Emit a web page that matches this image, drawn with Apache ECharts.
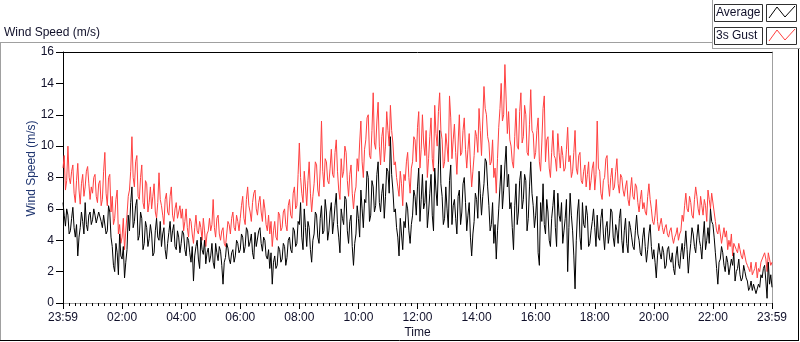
<!DOCTYPE html>
<html>
<head>
<meta charset="utf-8">
<script src="https://cdn.jsdelivr.net/npm/echarts@6/dist/echarts.min.js"></script>
<style>
  html, body { margin: 0; padding: 0; background: #fff; }
  #chart { width: 800px; height: 342px; }
</style>
</head>
<body>
<div id="chart"></div>
<script>
// time axis: minutes since the first sample (23:59), one sample every 2.5 minutes
var xLabels = ['23:59', '02:00', '04:00', '06:00', '08:00', '10:00', '12:00',
               '14:00', '16:00', '18:00', '20:00', '22:00', '23:59'];
var yTicks = [0, 2, 4, 6, 8, 10, 12, 14, 16];
var stepMin = 2.5;

// Average wind speed (m/s), one row per hour
var average = [
    6.4, 5.6, 4.9, 6.0, 5.6, 4.4, 4.6, 5.4, 6.1, 4.8, 4.2, 5.0, 3.0, 4.2, 4.8, 5.8, 5.2, 4.4, 6.4, 5.0, 4.6, 5.6, 5.8, 5.0,
    5.3, 6.0, 5.6, 5.1, 5.0, 5.8, 5.9, 5.2, 4.8, 5.6, 5.5, 4.4, 4.6, 6.2, 5.8, 4.2, 3.6, 2.4, 2.0, 3.8, 3.2, 1.8, 4.4, 3.0,
    2.8, 3.6, 1.6, 2.6, 3.4, 5.6, 4.6, 6.4, 7.4, 4.8, 5.2, 6.2, 6.6, 4.0, 4.3, 5.8, 5.4, 3.4, 3.8, 5.2, 4.8, 3.6, 4.1, 5.0,
    4.4, 3.0, 3.2, 4.6, 5.4, 4.2, 4.0, 5.2, 3.6, 4.4, 4.8, 3.4, 2.8, 3.8, 4.5, 5.2, 3.9, 4.6, 5.0, 3.6, 3.4, 4.6, 4.2, 3.2,
    3.8, 4.6, 4.4, 3.4, 3.0, 4.2, 4.0, 3.2, 2.6, 3.6, 1.4, 3.0, 3.6, 4.0, 2.8, 2.2, 4.2, 3.4, 3.1, 4.0, 2.5, 3.2, 3.5, 2.6,
    3.0, 3.8, 2.6, 2.2, 3.8, 3.2, 2.7, 3.6, 3.3, 2.4, 1.2, 2.6, 2.9, 3.8, 3.5, 2.8, 2.5, 3.2, 3.4, 2.6, 3.0, 4.0, 3.8, 3.2,
    3.4, 4.4, 4.2, 3.2, 3.6, 4.8, 4.6, 3.6, 3.9, 4.4, 3.2, 2.8, 4.5, 3.6, 3.7, 4.6, 4.8, 3.8, 3.3, 4.2, 4.0, 3.0, 2.8, 3.4,
    2.2, 3.2, 1.2, 2.6, 3.0, 2.2, 2.4, 3.6, 3.4, 2.6, 2.8, 3.8, 3.6, 2.4, 2.9, 4.0, 4.2, 3.4, 3.2, 4.8, 4.6, 3.6, 3.8, 5.2,
    5.0, 6.4, 4.2, 3.4, 6.0, 4.8, 3.6, 5.2, 4.8, 3.4, 2.6, 4.0, 4.4, 5.8, 5.6, 4.2, 3.8, 5.4, 6.2, 4.4, 4.6, 6.6, 5.8, 4.0,
    4.6, 5.8, 6.4, 4.4, 5.2, 6.2, 7.0, 5.0, 4.2, 3.2, 6.0, 5.4, 5.0, 6.8, 6.6, 4.6, 3.8, 5.2, 5.6, 3.6, 2.4, 3.8, 4.4, 6.2,
    5.4, 4.2, 7.2, 6.0, 4.8, 6.6, 6.4, 8.4, 8.0, 5.2, 5.6, 7.8, 7.4, 5.8, 6.2, 8.2, 9.0, 6.4, 5.8, 7.0, 7.6, 5.4, 6.8, 8.6,
    8.4, 7.0, 10.6, 8.2, 7.2, 5.8, 6.0, 4.8, 4.2, 3.0, 5.4, 4.4, 3.4, 5.2, 4.8, 6.4, 6.0, 4.6, 3.8, 5.0, 5.6, 7.2, 6.8, 5.6,
    7.4, 8.6, 5.2, 6.6, 8.2, 6.0, 6.4, 7.8, 4.8, 5.8, 7.0, 8.2, 5.6, 4.6, 8.6, 7.2, 6.2, 8.8, 11.0, 7.6, 6.8, 5.0, 5.4, 7.4,
    6.0, 4.8, 7.8, 8.8, 5.0, 6.2, 6.6, 5.4, 4.4, 6.8, 7.2, 5.0, 5.8, 7.6, 8.0, 6.4, 4.6, 5.6, 6.4, 4.2, 3.0, 4.4, 5.2, 7.0,
    6.6, 5.4, 8.4, 7.0, 5.6, 6.8, 7.6, 9.2, 9.0, 7.4, 6.2, 4.6, 5.0, 6.4, 3.8, 5.0, 2.8, 4.6, 6.0, 7.4, 8.8, 6.0, 7.2, 8.8,
    10.0, 7.4, 8.2, 6.0, 6.4, 4.8, 3.4, 6.2, 7.6, 5.0, 5.8, 7.8, 8.4, 6.0, 6.6, 8.2, 7.8, 4.6, 5.4, 7.4, 9.0, 7.0, 6.2, 4.8,
    5.6, 6.8, 3.2, 2.4, 6.4, 5.2, 7.6, 5.0, 4.4, 6.6, 5.8, 4.0, 3.6, 5.4, 6.2, 7.2, 4.8, 3.6, 7.0, 5.6, 5.2, 6.4, 3.8, 4.6,
    5.4, 6.6, 2.0, 4.8, 7.0, 5.6, 4.6, 3.0, 0.9, 4.0, 5.8, 6.6, 4.2, 3.4, 6.4, 5.0, 4.8, 6.2, 5.6, 3.6, 3.8, 4.6, 5.2, 6.0,
    4.8, 3.6, 5.6, 4.2, 4.0, 5.4, 6.0, 4.4, 3.4, 4.8, 5.2, 3.8, 4.4, 6.0, 5.8, 4.2, 3.6, 5.0, 4.6, 3.8, 5.4, 6.0, 4.0, 3.2,
    4.6, 5.4, 3.8, 3.2, 5.2, 4.8, 4.2, 3.6, 3.4, 4.6, 5.6, 4.4, 4.0, 3.2, 3.0, 4.2, 4.8, 3.6, 2.6, 3.4, 4.4, 5.0, 3.6, 2.8,
    3.4, 2.6, 1.6, 3.0, 3.8, 3.2, 2.8, 3.6, 3.2, 2.2, 2.4, 3.4, 3.6, 2.8, 2.6, 3.2, 2.2, 1.8, 3.0, 3.6, 2.5, 2.2, 3.2, 3.8,
    2.8, 3.6, 4.6, 3.4, 1.9, 3.0, 3.8, 4.8, 4.4, 3.6, 3.2, 4.2, 5.0, 4.0, 3.6, 2.8, 4.2, 5.2, 3.4, 4.0, 4.8, 3.8, 6.0, 5.2,
    5.0, 4.2, 3.2, 2.2, 1.2, 2.6, 2.8, 3.6, 3.2, 2.4, 2.0, 3.0, 2.6, 1.8, 1.8, 2.8, 2.4, 3.2, 1.4, 2.0, 2.2, 2.8, 1.8, 1.4,
    1.6, 2.4, 2.0, 1.6, 1.4, 0.8, 1.0, 1.4, 0.8, 1.2, 1.2, 0.6, 0.5, 1.2, 1.0, 1.8, 1.6, 2.2, 2.4, 1.4, 0.3, 2.6, 1.2, 1.8,
    1.0
];

// 3s gust (m/s), one row per hour
var gust = [
    8.6, 9.4, 7.2, 7.8, 10.0, 8.0, 7.6, 8.4, 8.8, 7.0, 6.4, 7.8, 8.9, 7.2, 6.3, 7.6, 8.2, 6.8, 7.4, 8.4, 8.7, 7.6, 6.6, 7.4,
    7.0, 8.0, 8.2, 6.8, 6.4, 7.6, 7.8, 6.2, 6.6, 8.4, 9.6, 7.0, 6.2, 8.0, 8.2, 5.8, 6.8, 5.0, 5.4, 6.6, 7.2, 4.4, 5.0, 3.8,
    4.2, 5.4, 3.4, 4.6, 5.6, 6.8, 7.2, 8.4, 10.6, 8.0, 7.4, 9.0, 9.4, 6.8, 6.6, 8.0, 8.8, 6.4, 6.0, 7.8, 7.6, 5.8, 6.4, 7.4,
    6.0, 6.8, 7.6, 5.8, 5.4, 6.4, 8.3, 6.6, 6.2, 5.6, 5.0, 6.6, 7.0, 5.8, 5.6, 6.8, 7.4, 5.6, 5.2, 6.0, 6.4, 5.4, 5.8, 6.2,
    5.4, 6.0, 4.6, 5.2, 6.0, 4.8, 4.2, 5.4, 5.2, 4.4, 3.8, 4.8, 5.6, 4.6, 4.4, 5.2, 4.8, 4.0, 5.4, 4.6, 3.6, 4.4, 4.6, 5.4,
    4.6, 5.0, 6.6, 4.8, 4.2, 5.4, 5.6, 4.4, 4.0, 4.6, 4.8, 3.8, 3.6, 4.4, 5.2, 5.0, 4.4, 5.4, 5.8, 4.8, 4.6, 5.6, 5.2, 4.6,
    5.4, 6.2, 6.8, 5.4, 5.0, 6.6, 7.4, 6.2, 5.8, 5.2, 6.4, 7.0, 7.2, 6.0, 5.6, 6.4, 6.8, 5.8, 5.2, 6.6, 6.0, 5.0, 4.6, 5.6,
    4.4, 5.2, 3.6, 4.6, 5.2, 4.2, 4.0, 5.8, 5.6, 4.6, 4.8, 5.8, 6.0, 5.0, 4.6, 6.2, 6.6, 5.6, 5.4, 7.0, 7.4, 6.0, 6.2, 8.2,
    10.2, 8.0, 7.0, 6.4, 8.4, 7.4, 6.2, 7.8, 9.0, 7.0, 5.8, 6.8, 7.6, 9.0, 8.8, 7.2, 6.8, 8.6, 11.6, 8.4, 7.4, 9.2, 9.0, 7.8,
    7.6, 8.6, 9.8, 8.2, 8.0, 9.6, 10.4, 8.4, 7.2, 6.6, 9.2, 8.0, 8.4, 10.0, 9.6, 7.8, 6.8, 8.2, 8.8, 7.0, 6.0, 7.0, 7.4, 9.2,
    8.4, 10.2, 11.6, 9.0, 8.0, 9.8, 10.4, 11.8, 12.0, 9.4, 9.2, 11.0, 13.4, 10.2, 9.8, 11.6, 12.8, 10.0, 8.8, 10.6, 11.2, 9.0, 10.0, 12.2,
    11.0, 10.0, 12.6, 11.0, 10.2, 8.8, 9.0, 8.0, 7.4, 6.8, 8.4, 7.6, 6.2, 8.2, 7.8, 9.0, 9.6, 8.0, 7.0, 8.6, 9.0, 10.6, 10.4, 9.0,
    11.2, 12.2, 8.6, 9.8, 12.0, 10.2, 9.4, 11.0, 8.0, 9.2, 10.6, 11.8, 9.2, 8.4, 12.6, 10.8, 10.0, 12.2, 13.4, 11.0, 10.4, 8.6, 9.0, 10.8,
    10.0, 9.0, 13.2, 11.8, 9.2, 10.4, 11.4, 9.6, 8.2, 10.2, 12.0, 9.4, 9.6, 11.0, 11.8, 9.8, 8.6, 9.8, 10.8, 8.8, 7.4, 8.4, 9.4, 11.0,
    10.6, 9.6, 12.4, 11.0, 9.4, 11.6, 13.8, 12.4, 12.0, 10.6, 10.2, 8.8, 9.0, 10.4, 8.0, 8.6, 7.0, 9.2, 11.2, 12.4, 14.0, 11.6, 12.0, 15.2,
    13.0, 10.8, 12.2, 10.4, 10.0, 9.0, 8.6, 10.6, 12.4, 10.0, 9.8, 12.2, 13.4, 10.2, 10.6, 12.6, 12.0, 9.6, 9.4, 11.4, 13.6, 11.0, 10.8, 9.2,
    9.6, 11.0, 11.8, 9.0, 8.4, 10.2, 12.4, 13.2, 9.0, 10.4, 10.6, 8.6, 8.0, 9.6, 11.0, 9.4, 9.2, 8.4, 10.8, 9.6, 8.6, 10.0, 9.4, 8.4,
    8.6, 9.8, 11.2, 9.0, 9.4, 8.0, 8.4, 9.6, 11.0, 8.6, 8.2, 9.4, 9.6, 7.8, 7.6, 8.4, 8.8, 7.4, 8.2, 9.0, 7.2, 7.8, 8.6, 9.0,
    7.2, 8.2, 11.6, 8.6, 8.4, 7.0, 6.6, 7.8, 8.0, 9.2, 9.4, 7.6, 6.8, 8.0, 8.6, 7.2, 7.4, 8.4, 9.2, 7.6, 7.0, 8.2, 8.0, 7.2,
    6.8, 7.4, 7.8, 6.6, 6.2, 7.2, 8.0, 6.8, 6.6, 7.6, 7.4, 6.4, 5.8, 6.6, 7.2, 6.0, 6.4, 5.8, 5.6, 6.8, 7.6, 6.6, 6.0, 5.2,
    5.0, 5.6, 6.6, 5.2, 4.6, 5.0, 5.4, 4.8, 4.4, 4.8, 5.0, 4.4, 4.2, 4.6, 4.8, 4.2, 3.8, 4.2, 4.4, 4.8, 4.0, 4.4, 4.6, 5.6,
    5.2, 6.2, 7.0, 6.0, 5.8, 6.8, 6.4, 5.6, 5.4, 6.6, 7.4, 6.8, 6.0, 5.6, 6.8, 6.2, 5.6, 6.6, 6.2, 5.2, 7.2, 6.6, 6.0, 7.0,
    7.0, 5.8, 5.2, 4.6, 4.4, 5.0, 4.4, 3.8, 3.8, 4.8, 4.2, 4.6, 3.4, 4.0, 3.6, 4.4, 3.0, 3.8, 3.8, 3.4, 3.2, 3.8, 3.4, 3.0,
    2.8, 3.4, 3.0, 2.6, 2.4, 2.2, 2.0, 2.6, 1.8, 2.0, 2.2, 2.6, 1.6, 2.2, 2.0, 2.6, 2.6, 3.0, 3.2, 2.8, 2.0, 3.2, 2.8, 2.4,
    2.6
];

function pairs(arr) {
    return arr.map(function (v, i) { return [i * stepMin, v]; });
}

var FONT = '"Liberation Sans", Arial, sans-serif';
var TXT = '#10102a';

var myChart = echarts.init(document.getElementById('chart'), null, { renderer: 'canvas' });

var option = {
    backgroundColor: '#fff',
    animation: false,
    textStyle: { fontFamily: FONT },
    title: {
        text: 'Wind Speed (m/s)',
        left: 4, top: 27, padding: 0,
        textStyle: { fontFamily: FONT, fontSize: 12, fontWeight: 'normal', color: TXT }
    },
    // keep the plot exactly where it is in the picture (no auto shrink for labels)
    grid: { left: 63, right: 28, top: 52, bottom: 39, containLabel: false, outerBoundsMode: 'none' },
    xAxis: [{
        type: 'value',
        min: 0, max: 1440, interval: 120,
        name: 'Time', nameLocation: 'middle', nameGap: 24, nameMoveOverlap: false,
        nameTextStyle: { fontFamily: FONT, fontSize: 12, color: TXT },
        axisLine: { show: true, onZero: false, lineStyle: { color: '#a0a0a0', width: 1 } },
        axisTick: { show: true, length: 6, lineStyle: { color: '#000' } },
        minorTick: { show: true, splitNumber: 10, length: 3, lineStyle: { color: '#000' } },
        axisLabel: {
            margin: 9, fontSize: 12, color: TXT, fontFamily: FONT,
            formatter: function (v) { return xLabels[Math.round(v / 120)]; }
        },
        splitLine: { show: false }
    }, {
        type: 'value', position: 'top',
        min: 0, max: 1440,
        axisLine: { show: true, onZero: false, lineStyle: { color: '#000', width: 1 } },
        axisTick: { show: false }, axisLabel: { show: false }, splitLine: { show: false }
    }],
    yAxis: [{
        type: 'value',
        min: yTicks[0], max: yTicks[yTicks.length - 1], interval: 2,
        name: 'Wind Speed (m/s)', nameLocation: 'middle', nameGap: 25, nameMoveOverlap: false,
        nameTextStyle: { fontFamily: FONT, fontSize: 12, color: '#1f3570', padding: [0, 0, 0, 18] },
        axisLine: { show: true, onZero: false, lineStyle: { color: '#000', width: 1 } },
        axisTick: { show: true, length: 7, lineStyle: { color: '#000' } },
        axisLabel: { margin: 9, fontSize: 12, color: TXT, fontFamily: FONT },
        splitLine: { show: false }
    }, {
        type: 'value', position: 'right',
        min: 0, max: 16,
        axisLine: { show: true, onZero: false, lineStyle: { color: '#a0a0a0', width: 1 } },
        axisTick: { show: false }, axisLabel: { show: false }, splitLine: { show: false }
    }],
    series: [{
        name: '3s Gust',
        type: 'line',
        data: pairs(gust),
        showSymbol: false, symbol: 'none',
        lineStyle: { color: '#ff4040', width: 1 },
        itemStyle: { color: '#ff4040' }
    }, {
        name: 'Average',
        type: 'line',
        data: pairs(average),
        showSymbol: false, symbol: 'none',
        lineStyle: { color: '#000', width: 1 },
        itemStyle: { color: '#000' }
    }],
    graphic: [
        // outer panel frame
        { type: 'line', shape: { x1: 0.5, y1: 42.5, x2: 0.5, y2: 341 }, style: { stroke: '#a0a0a0', lineWidth: 1 } },
        { type: 'line', shape: { x1: 0, y1: 42.5, x2: 712, y2: 42.5 }, style: { stroke: '#a0a0a0', lineWidth: 1 } },
        { type: 'line', shape: { x1: 712.5, y1: 0, x2: 712.5, y2: 49 }, style: { stroke: '#a0a0a0', lineWidth: 1 } },
        { type: 'line', shape: { x1: 712, y1: 48.5, x2: 800, y2: 48.5 }, style: { stroke: '#a0a0a0', lineWidth: 1 } },
        { type: 'line', shape: { x1: 798.5, y1: 49, x2: 798.5, y2: 341 }, style: { stroke: '#000', lineWidth: 1 } },
        { type: 'line', shape: { x1: 0, y1: 340.5, x2: 799, y2: 340.5 }, style: { stroke: '#000', lineWidth: 1 } },
        // legend: Average
        { type: 'rect', shape: { x: 714.5, y: 4.5, width: 48, height: 17 }, style: { fill: '#fff', stroke: '#303030', lineWidth: 1 } },
        { type: 'text', x: 716, y: 13, style: { text: 'Average', font: '12px ' + FONT, fill: TXT, textVerticalAlign: 'middle' } },
        { type: 'rect', shape: { x: 766.5, y: 4.5, width: 30, height: 17 }, style: { fill: '#fff', stroke: '#303030', lineWidth: 1 } },
        { type: 'polyline', shape: { points: [[769, 18], [777, 7], [785, 17], [795, 6]] }, style: { stroke: '#000', fill: null, lineWidth: 1 } },
        // legend: 3s Gust
        { type: 'rect', shape: { x: 714.5, y: 27.5, width: 48, height: 17 }, style: { fill: '#fff', stroke: '#303030', lineWidth: 1 } },
        { type: 'text', x: 716, y: 36, style: { text: '3s Gust', font: '12px ' + FONT, fill: TXT, textVerticalAlign: 'middle' } },
        { type: 'rect', shape: { x: 766.5, y: 27.5, width: 30, height: 17 }, style: { fill: '#fff', stroke: '#303030', lineWidth: 1 } },
        { type: 'polyline', shape: { points: [[769, 41], [777, 30], [785, 40], [795, 29]] }, style: { stroke: '#ff4040', fill: null, lineWidth: 1 } }
    ]
};

myChart.setOption(option);
</script>
</body>
</html>
